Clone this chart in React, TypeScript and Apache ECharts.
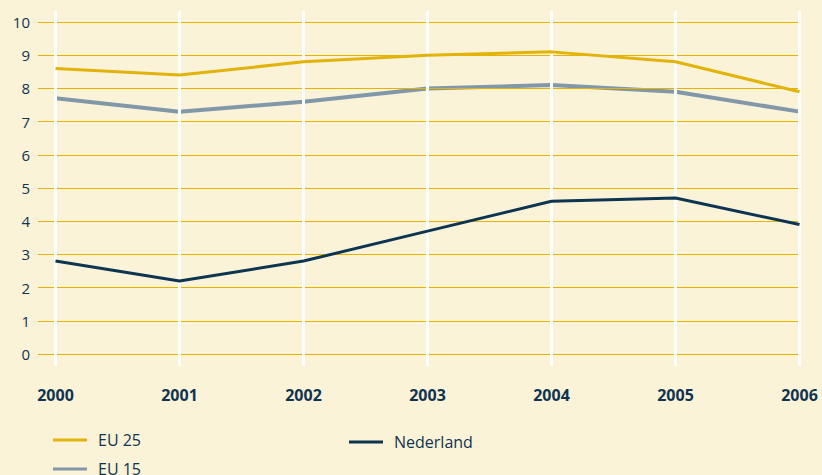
import React, { useEffect, useRef } from "react";
import * as echarts from "echarts";

const years = [2000, 2001, 2002, 2003, 2004, 2005, 2006];
const yTicks = [0, 1, 2, 3, 4, 5, 6, 7, 8, 9, 10];
const eu25 = [8.6, 8.4, 8.8, 9.0, 9.1, 8.8, 7.9];
const eu15 = [7.7, 7.3, 7.6, 8.0, 8.1, 7.9, 7.3];
const nederland = [2.8, 2.2, 2.8, 3.7, 4.6, 4.7, 3.9];

const TEXT = "#0f3350";
const FONT = "'Open Sans', 'Noto Sans', sans-serif";

export default function App() {
  const ref = useRef<HTMLDivElement>(null);
  useEffect(() => {
    if (!ref.current) return;
    const chart = echarts.init(ref.current, null, { renderer: "svg" });
    const pair = (arr: number[]) => years.map((y, i) => [y, arr[i]]);
    const legendBase = {
      orient: "horizontal",
      itemWidth: 34,
      itemHeight: 3,
      icon: "rect",
      padding: 0,
      textStyle: {
        color: TEXT,
        fontSize: 16,
        lineHeight: 18,
        padding: [0, 0, 0, 6],
        fontFamily: FONT,
      },
    };
    chart.setOption({
      animation: false,
      backgroundColor: "#fbf3d8",
      textStyle: { fontFamily: FONT },
      grid: { left: 38, right: 22.5, top: 11, bottom: 109, containLabel: false },
      xAxis: {
        type: "value",
        min: 1999.859,
        max: 2006,
        axisLine: { show: false },
        axisTick: { show: false },
        splitLine: { show: false },
        axisLabel: {
          customValues: years,
          formatter: (v: number) => String(v),
          color: TEXT,
          fontWeight: "bold",
          fontSize: 16,
          lineHeight: 18,
          margin: 20,
          fontFamily: FONT,
        },
      },
      yAxis: {
        type: "value",
        min: -0.361,
        max: 10.331,
        axisLine: { show: false },
        axisTick: { show: false },
        splitLine: { show: false },
        axisLabel: {
          customValues: yTicks,
          formatter: (v: number) => String(v),
          color: TEXT,
          fontSize: 15,
          margin: 8,
          verticalAlign: "middle",
          padding: [0, 0, 10, 0],
          fontFamily: FONT,
        },
      },
      legend: [
        { ...legendBase, data: ["EU 25"], left: 53, top: 431 },
        { ...legendBase, data: ["EU 15"], left: 53, top: 460 },
        { ...legendBase, data: ["Nederland"], left: 349, top: 433 },
      ],
      series: [
        {
          name: "grid-h",
          type: "line",
          data: [],
          z: 1,
          silent: true,
          markLine: {
            silent: true,
            symbol: "none",
            label: { show: false },
            lineStyle: { color: "#e6b400", width: 1, type: "solid" },
            data: yTicks.map((v) => ({ yAxis: v })),
          },
        },
        {
          name: "grid-v",
          type: "line",
          data: [],
          z: 2,
          silent: true,
          markLine: {
            silent: true,
            symbol: "none",
            label: { show: false },
            lineStyle: { color: "#ffffff", width: 3, type: "solid" },
            data: years.map((v) => ({ xAxis: v })),
          },
        },
        {
          name: "EU 25",
          type: "line",
          data: pair(eu25),
          z: 5,
          showSymbol: false,
          symbol: "none",
          color: "#e2b30a",
          lineStyle: { color: "#e2b30a", width: 3 },
        },
        {
          name: "EU 15",
          type: "line",
          data: pair(eu15),
          z: 4,
          showSymbol: false,
          symbol: "none",
          color: "#8198a8",
          lineStyle: { color: "#8198a8", width: 4 },
        },
        {
          name: "Nederland",
          type: "line",
          data: pair(nederland),
          z: 6,
          showSymbol: false,
          symbol: "none",
          color: "#0d3551",
          lineStyle: { color: "#0d3551", width: 3 },
        },
      ],
    });
    return () => chart.dispose();
  }, []);
  return (
    <div
      ref={ref}
      style={{ position: "absolute", left: 0, top: 0, width: 822, height: 475 }}
    />
  );
}
